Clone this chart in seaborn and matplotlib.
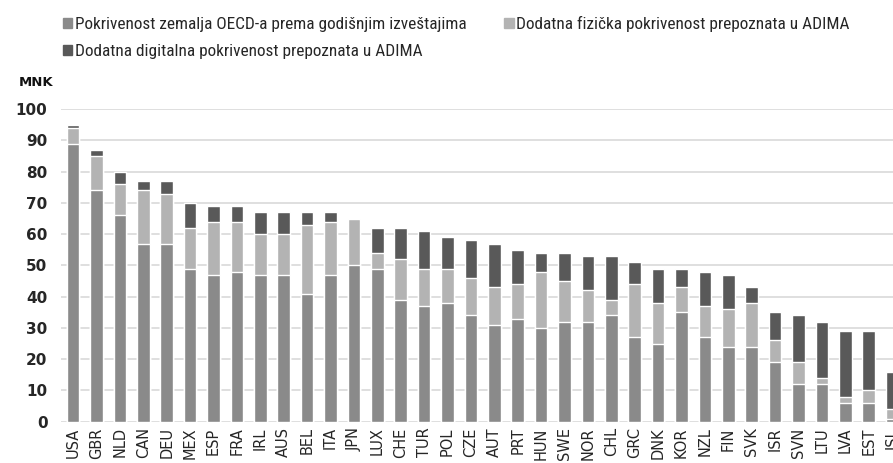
import numpy as np
import pandas as pd
import seaborn as sns
import matplotlib.pyplot as plt
from matplotlib.patches import Patch

countries = ["USA", "GBR", "NLD", "CAN", "DEU", "MEX", "ESP", "FRA", "IRL", "AUS",
             "BEL", "ITA", "JPN", "LUX", "CHE", "TUR", "POL", "CZE", "AUT", "PRT",
             "HUN", "SWE", "NOR", "CHL", "GRC", "DNK", "KOR", "NZL", "FIN", "SVK",
             "ISR", "SVN", "LTU", "LVA", "EST", "ISL"]
# segment values
oecd = [89, 74, 66, 57, 57, 49, 47, 48, 47, 47,
        41, 47, 50, 49, 39, 37, 38, 34, 31, 33,
        30, 32, 32, 34, 27, 25, 35, 27, 24, 24,
        19, 12, 12, 6, 6, 1]
physical = [5, 11, 10, 17, 16, 13, 17, 16, 13, 13,
            22, 17, 15, 5, 13, 12, 11, 12, 12, 11,
            18, 13, 10, 5, 17, 13, 8, 10, 12, 14,
            7, 7, 2, 2, 4, 3]
digital = [1, 2, 4, 3, 4, 8, 5, 5, 7, 7,
           4, 3, 0, 8, 10, 12, 10, 12, 14, 11,
           6, 9, 11, 14, 7, 11, 6, 11, 11, 5,
           9, 15, 18, 21, 19, 12]
labels = ["Pokrivenost zemalja OECD-a prema godišnjim izveštajima",
          "Dodatna fizička pokrivenost prepoznata u ADIMA",
          "Dodatna digitalna pokrivenost prepoznata u ADIMA"]
colors = ["#8a8a8a", "#b3b3b3", "#595959"]

df = pd.DataFrame({"country": countries, "oecd": oecd,
                   "physical": physical, "digital": digital})
df["t1"] = df["oecd"]
df["t2"] = df["t1"] + df["physical"]
df["t3"] = df["t2"] + df["digital"]

sns.set_theme(style="white")
fig = plt.figure(figsize=(8.93, 4.63), dpi=100)
ax = fig.add_axes([0.0687, 0.0892, 0.9313, 0.675])

# stacked bars: draw cumulative totals back to front
for col, c in zip(["t3", "t2", "t1"], [colors[2], colors[1], colors[0]]):
    sns.barplot(data=df, x="country", y=col, color=c, width=0.54,
                saturation=1, ax=ax, zorder=3)

ax.set_ylim(0, 100)
ax.set_xlim(-0.5, 35.04)
ax.set_yticks(range(0, 101, 10))
ax.yaxis.grid(True, color="#d9d9d9", lw=1.2, zorder=0)
ax.set_axisbelow(True)
for s in ax.spines.values():
    s.set_visible(False)
ax.set_xlabel("")
ax.set_ylabel("")
ax.tick_params(axis="both", length=0, colors="#262626")
ax.tick_params(axis="y", pad=10)
ax.tick_params(axis="x", pad=4)
plt.setp(ax.get_yticklabels(), fontsize=11, family="DejaVu Sans", fontweight="bold")
plt.setp(ax.get_xticklabels(), fontsize=10.5, rotation=90, family="DejaVu Sans")

fig.text(0.021, 0.821, "MNK", fontsize=9.5, fontweight="bold", family="DejaVu Sans",
         color="#111111", va="center")

handles = [Patch(color=c) for c in colors]
order = [0, 2, 1]
fig.legend([handles[i] for i in order], [labels[i] for i in order],
           loc="upper left", bbox_to_anchor=(0.053, 0.999), ncol=2, frameon=False,
           handlelength=0.55, handleheight=0.55, handletextpad=0.15,
           columnspacing=2.2, labelspacing=0.7,
           prop={"family": ["Roboto Condensed", "Lato"], "size": 12.4})

fig.savefig("out.png", dpi=100)
